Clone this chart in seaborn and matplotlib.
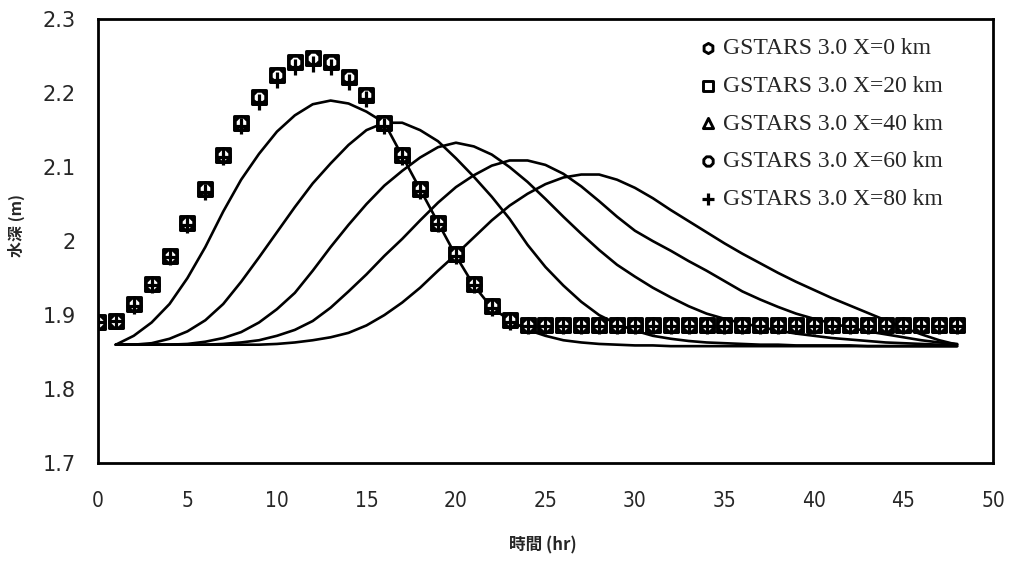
import numpy as np
import pandas as pd
import matplotlib
matplotlib.use("Agg")
import matplotlib.pyplot as plt
import seaborn as sns

# ---------------- data ----------------
marker_hours = list(range(0, 49))
gstars_base = [1.890, 1.892, 1.915, 1.942, 1.980, 2.025, 2.070, 2.117, 2.160, 2.195,
               2.225, 2.242, 2.248, 2.242, 2.222, 2.197, 2.160, 2.117, 2.070, 2.025,
               1.982, 1.942, 1.912, 1.893] + [1.886] * 25
gstars_x0 = list(gstars_base)
gstars_x20 = list(gstars_base)
gstars_x40 = list(gstars_base)
gstars_x60 = list(gstars_base)
gstars_x80 = [1.890, 1.892, 1.912, 1.940, 1.978, 2.022, 2.067, 2.114, 2.155, 2.188,
              2.218, 2.235, 2.240, 2.235, 2.215, 2.192, 2.156, 2.114, 2.068, 2.023,
              1.980, 1.940, 1.910, 1.891] + [1.885] * 25
gstars_labels = ["GSTARS 3.0 X=0 km", "GSTARS 3.0 X=20 km", "GSTARS 3.0 X=40 km",
                 "GSTARS 3.0 X=60 km", "GSTARS 3.0 X=80 km"]

line_hours = list(range(1, 49))
model_x0 = [1.860, 1.872, 1.890, 1.915, 1.950, 1.992, 2.040, 2.083, 2.118, 2.148,
            2.170, 2.185, 2.190, 2.186, 2.175, 2.160, 2.115, 2.070, 2.025, 1.980,
            1.940, 1.910, 1.893, 1.880, 1.872, 1.866, 1.863, 1.861, 1.860, 1.859,
            1.859, 1.858, 1.858, 1.858, 1.858, 1.858, 1.858, 1.858, 1.858, 1.858,
            1.858, 1.858, 1.858, 1.858, 1.858, 1.858, 1.858, 1.858]
model_x20 = [1.860, 1.860, 1.862, 1.868, 1.878, 1.893, 1.915, 1.945, 1.978, 2.012,
             2.046, 2.078, 2.105, 2.130, 2.150, 2.160, 2.160, 2.150, 2.135, 2.112,
             2.087, 2.060, 2.030, 1.995, 1.965, 1.940, 1.918, 1.900, 1.888, 1.879,
             1.872, 1.868, 1.865, 1.863, 1.862, 1.861, 1.860, 1.860, 1.859, 1.859,
             1.859, 1.859, 1.858, 1.858, 1.858, 1.858, 1.858, 1.858]
model_x40 = [1.860, 1.860, 1.860, 1.860, 1.861, 1.864, 1.869, 1.877, 1.890, 1.908,
             1.930, 1.960, 1.992, 2.022, 2.050, 2.075, 2.095, 2.113, 2.127, 2.133,
             2.128, 2.117, 2.100, 2.080, 2.057, 2.033, 2.010, 1.988, 1.968, 1.952,
             1.937, 1.924, 1.912, 1.902, 1.895, 1.889, 1.884, 1.879, 1.875, 1.872,
             1.869, 1.867, 1.865, 1.863, 1.862, 1.861, 1.860, 1.860]
model_x60 = [1.860, 1.860, 1.860, 1.860, 1.860, 1.860, 1.861, 1.863, 1.866, 1.872,
             1.880, 1.892, 1.910, 1.932, 1.955, 1.980, 2.003, 2.028, 2.052, 2.073,
             2.089, 2.102, 2.109, 2.109, 2.103, 2.091, 2.074, 2.054, 2.033, 2.014,
             2.000, 1.987, 1.973, 1.960, 1.946, 1.932, 1.921, 1.911, 1.902, 1.895,
             1.889, 1.883, 1.878, 1.874, 1.870, 1.866, 1.863, 1.861]
model_x80 = [1.860, 1.860, 1.860, 1.860, 1.860, 1.860, 1.860, 1.860, 1.860, 1.861,
             1.863, 1.866, 1.870, 1.876, 1.886, 1.900, 1.917, 1.937, 1.960, 1.982,
             2.005, 2.028, 2.048, 2.064, 2.077, 2.086, 2.090, 2.090, 2.083, 2.072,
             2.058, 2.042, 2.027, 2.012, 1.997, 1.983, 1.970, 1.957, 1.945, 1.934,
             1.923, 1.913, 1.903, 1.893, 1.883, 1.874, 1.866, 1.860]

x_ticks = [0, 5, 10, 15, 20, 25, 30, 35, 40, 45, 50]
y_ticks = [1.7, 1.8, 1.9, 2.0, 2.1, 2.2, 2.3]
y_tick_labels = ["1.7", "1.8", "1.9", "2", "2.1", "2.2", "2.3"]

# ---------------- plot ----------------
sns.set_style("white")
plt.rcParams["font.family"] = ["Liberation Serif", "Noto Sans CJK TC", "DejaVu Sans"]

fig = plt.figure(figsize=(10.2, 5.64), dpi=100)
ax = fig.add_axes([0.096, 0.179, 0.8775, 0.787])

lines_df = pd.DataFrame({
    "hour": line_hours * 5,
    "depth": model_x0 + model_x20 + model_x40 + model_x60 + model_x80,
    "run": sum([[k] * len(line_hours) for k in range(5)], []),
})
sns.lineplot(data=lines_df, x="hour", y="depth", units="run", estimator=None,
             color="black", linewidth=1.9, ax=ax, legend=False, sort=False)

series = [gstars_x0, gstars_x20, gstars_x40, gstars_x60, gstars_x80]
markers = ["h", "s", "^", "8", "+"]
for vals, mk, lab in zip(series, markers, gstars_labels):
    if mk == "+":
        sns.scatterplot(x=marker_hours, y=vals, marker=mk, s=125, color="black",
                        linewidth=2.3, ax=ax, label=lab, zorder=5)
    else:
        sns.scatterplot(x=marker_hours, y=vals, marker=mk, s=95, facecolor="white",
                        edgecolor="black", linewidth=2.1, ax=ax, label=lab, zorder=4)

ax.set_xlim(0, 50)
ax.set_ylim(1.7, 2.3)
ax.set_xticks(x_ticks)
ax.set_xticklabels([str(v) for v in x_ticks])
ax.set_yticks(y_ticks)
ax.set_yticklabels(y_tick_labels)
for lab in ax.get_xticklabels():
    lab.set_family(["DejaVu Sans"])
    lab.set_stretch("condensed")
    lab.set_fontsize(15)
for lab in ax.get_yticklabels():
    lab.set_family(["DejaVu Sans"])
    lab.set_fontsize(15)
ax.tick_params(axis="both", direction="in", length=5, width=1.2, color="black")
ax.tick_params(axis="x", pad=20)
ax.tick_params(axis="y", pad=16)

for sp in ax.spines.values():
    sp.set_visible(True)
    sp.set_color("black")
    sp.set_linewidth(2.0)

ax.set_xlabel("時間 (hr)", family=["Noto Sans CJK TC", "DejaVu Sans"], fontsize=12, fontweight="bold")
ax.set_ylabel("水深 (m)", family=["Noto Sans CJK TC", "DejaVu Sans"], fontsize=11.5, fontweight="bold")
ax.xaxis.set_label_coords(0.497, -0.165)
ax.yaxis.set_label_coords(-0.082, 0.535)

leg = ax.legend(loc="upper right", bbox_to_anchor=(0.955, 0.979), frameon=False,
                prop={"family": "Liberation Serif", "size": 17},
                handletextpad=0.15, labelspacing=0.68, borderaxespad=0.0,
                handlelength=1.0, markerscale=0.75)

fig.savefig("out.png", dpi=100, facecolor="white")
